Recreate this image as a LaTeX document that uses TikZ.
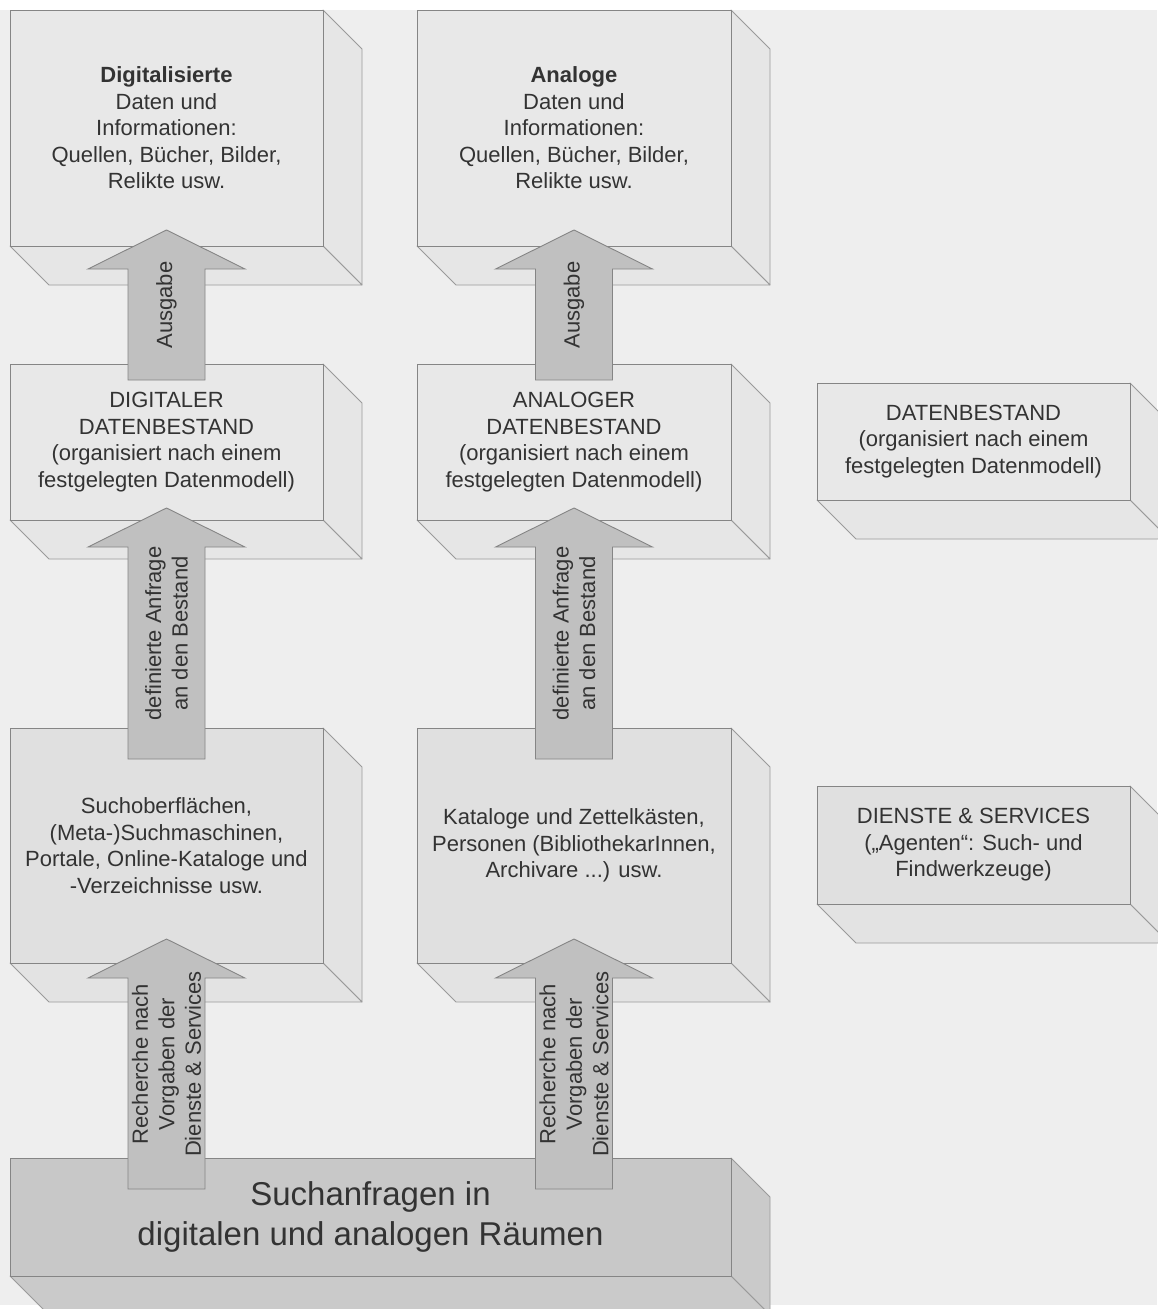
\documentclass[tikz,border=0pt]{standalone}
\usepackage{fontspec}
\setmainfont{Liberation Sans}
\usetikzlibrary{calc}
\pgfdeclarelayer{background}
\pgfsetlayers{background,main}
\definecolor{bg}{HTML}{EEEEEE}
\definecolor{frontA}{HTML}{E8E8E8}
\definecolor{sideA}{HTML}{E6E6E6}
\definecolor{frontB}{HTML}{E0E0E0}
\definecolor{sideB}{HTML}{E3E3E3}
\definecolor{frontC}{HTML}{C8C8C8}
\definecolor{sideC}{HTML}{CACACA}
\definecolor{arrowfill}{HTML}{C0C0C0}
\definecolor{edge}{HTML}{858585}
\definecolor{depthedge}{HTML}{9A9A9A}
\definecolor{txt}{HTML}{333333}
\tikzset{
  cubefront/.style={draw=edge, line width=0.9pt, rectangle, inner sep=0pt, outer sep=0pt,
    align=center, text=txt, font=\fontsize{22}{26.5}\selectfont},
  bigtext/.style={font=\fontsize{33}{40}\selectfont},
  cubeface/.style={draw=depthedge, line width=0.8pt, line join=round},
  blockarrow/.style={draw=edge, line width=0.9pt, fill=arrowfill, line join=miter},
  arrowlabel/.style={rotate=90, align=center, text=txt, inner sep=0pt,
    font=\fontsize{22}{26.5}\selectfont},
}
% name, x1, y1, x2, y2 (pixel coords, y downwards), front options, face colour, text
\newcommand\mycube[8]{%
  \node[cubefront, #6, minimum width={#4-#2}, minimum height={#5-#3}]
    (#1) at ({(#2+#4)/2},{-(#3+#5)/2}) {#8};
  \begin{pgfonlayer}{background}
    \filldraw[cubeface, fill=#7] (#1.north east) -- ++(39,-39)
      -- ($(#1.south east)+(39,-39)$) -- (#1.south east) -- cycle;
    \filldraw[cubeface, fill=#7] (#1.south west) -- ++(39,-39)
      -- ($(#1.south east)+(39,-39)$) -- (#1.south east) -- cycle;
  \end{pgfonlayer}}
% name, from node, to node, shaft offset into from node, tip offset into to node, label
\newcommand\myarrow[6]{%
  \coordinate (#1-b) at ($(#3.south |- #2.north)+(0,-#4)$);
  \coordinate (#1-t) at ($(#3.south)+(0,#5)$);
  \draw[blockarrow] (#1-t) -- ++(78.5,-39) -- ++(-40,0) -- ($(#1-b)+(38.5,0)$)
    -- ($(#1-b)+(-38.5,0)$) -- ($(#1-t)+(-38.5,-39)$) -- ++(-40,0) -- cycle;
  \node[arrowlabel] (#1) at ($(#1-t)!0.5!(#1-b)$) {#6};}
\begin{document}
\begin{tikzpicture}[x=1pt,y=1pt]
\useasboundingbox (0,0) rectangle (1157,-1309);
\begin{pgfonlayer}{background}
  \fill[white] (0,0) rectangle (1157,-1309);
  \fill[bg] (0,-10) rectangle (1157,-1305);
\end{pgfonlayer}
% top row
\mycube{dig}{10}{10}{323}{246}{fill=frontA}{sideA}{\textbf{Digitalisierte}\\Daten und\\Informationen:\\Quellen, Bücher, Bilder,\\Relikte usw.}
\mycube{ana}{417}{10}{731}{246}{fill=frontA}{sideA}{\textbf{Analoge}\\Daten und\\Informationen:\\Quellen, Bücher, Bilder,\\Relikte usw.}
% second row
\mycube{digdb}{10}{364}{323}{520}{fill=frontA}{sideA}{DIGITALER\\DATENBESTAND\\(organisiert nach einem\\festgelegten Datenmodell)}
\mycube{anadb}{417}{364}{731}{520}{fill=frontA}{sideA}{ANALOGER\\DATENBESTAND\\(organisiert nach einem\\festgelegten Datenmodell)}
\mycube{db}{817}{383}{1130}{500}{fill=frontA}{sideA}{DATENBESTAND\\(organisiert nach einem\\festgelegten Datenmodell)}
% third row
\mycube{digsvc}{10}{728}{323}{963}{fill=frontB}{sideB}{Suchoberflächen,\\(Meta-)Suchmaschinen,\\Portale, Online-Kataloge und\\-Verzeichnisse usw.}
\mycube{anasvc}{417}{728}{731}{963}{fill=frontB}{sideB}{Kataloge und Zettelkästen,\\Personen (BibliothekarInnen,\\Archivare ...) usw.}
\mycube{svc}{817}{786}{1130}{904}{fill=frontB}{sideB}{DIENSTE \& SERVICES\\(„Agenten“: Such- und\\Findwerkzeuge)}
% bottom
\mycube{such}{10}{1158}{731}{1276}{fill=frontC, bigtext}{sideC}{Suchanfragen in\\digitalen und analogen Räumen}
% arrows
\myarrow{a1}{digdb}{dig}{16}{16}{Ausgabe}
\myarrow{a2}{anadb}{ana}{16}{16}{Ausgabe}
\myarrow{a3}{digsvc}{digdb}{31}{12}{definierte Anfrage\\an den Bestand}
\myarrow{a4}{anasvc}{anadb}{31}{12}{definierte Anfrage\\an den Bestand}
\myarrow{a5}{such}{digsvc}{31}{24}{Recherche nach\\Vorgaben der\\Dienste \& Services}
\myarrow{a6}{such}{anasvc}{31}{24}{Recherche nach\\Vorgaben der\\Dienste \& Services}
\end{tikzpicture}
\end{document}
